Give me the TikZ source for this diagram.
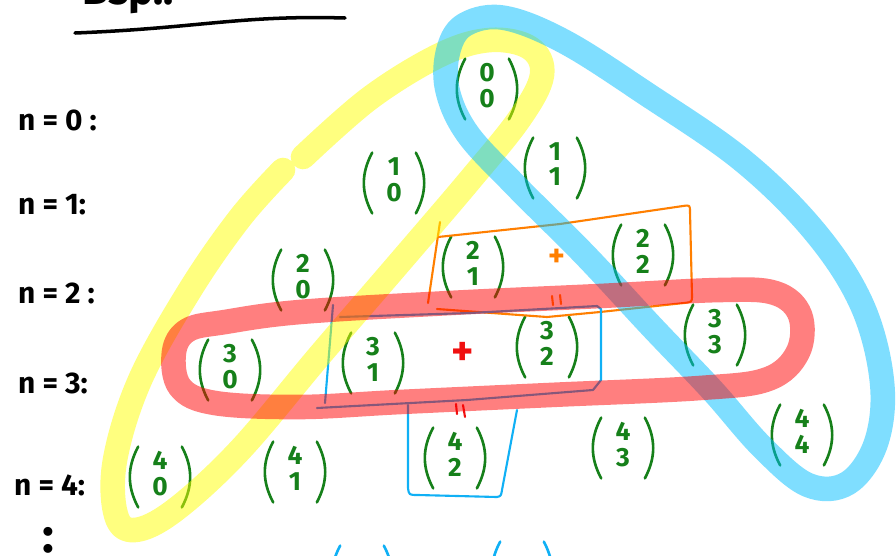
\documentclass[tikz,border=0pt]{standalone}
\usepackage{fontspec}
\setmainfont{Fira Sans}
\usetikzlibrary{calc}
\definecolor{inkgreen}{HTML}{16801A}
\definecolor{inkorange}{HTML}{FF7F00}
\definecolor{inkcyan}{HTML}{10B0F5}
\definecolor{inkred}{HTML}{F01010}
\definecolor{hlyellow}{HTML}{FFFF00}
\definecolor{hlblue}{HTML}{00BFFF}
\definecolor{hlred}{HTML}{FF0000}
\tikzset{
  ink/.style={line width=1.5pt, line cap=round, line join=round},
  thinink/.style={line width=1.2pt, line cap=round, line join=round},
  hl/.style={line width=14pt, line cap=round, line join=round, draw opacity=0.5},
  binbox/.style={inner sep=0pt, minimum width=1.1cm, minimum height=1.2cm,
    font=\fontsize{15}{14}\selectfont\bfseries},
  rowlabel/.style={anchor=west, font=\fontsize{17}{20}\selectfont\bfseries},
}
\newcommand\binnode[5][inkgreen]{%
  \node[binbox,text=#1] (#2) at (#3) {\begin{tabular}{@{}c@{}}#4\\#5\end{tabular}};
  \draw[ink,#1] ($(#2.north west)+(6,0)$) to[bend right=28] ($(#2.south west)+(6,0)$);
  \draw[ink,#1] ($(#2.north east)+(-6,0)$) to[bend left=28] ($(#2.south east)+(-6,0)$);}
\begin{document}
\begin{tikzpicture}[x=0.02cm,y=-0.02cm]
\useasboundingbox (0,0) rectangle (896,555);
\clip (0,0) rectangle (896,555);
\fill[white] (0,0) rectangle (896,555);

% title (cut off at the top) and underline
\node[anchor=base west, font=\fontsize{24}{28}\selectfont\bfseries] (title) at (76,4) {Bsp.:};
\draw[line width=2pt, line cap=round] (75,33) .. controls (200,28) and (240,15) .. (345,18);

% row labels
\node[rowlabel] (r0) at (12,120) {n = 0 :};
\node[rowlabel] (r1) at (12,205) {n = 1:};
\node[rowlabel] (r2) at (12,293) {n = 2 :};
\node[rowlabel] (r3) at (12,383) {n = 3:};
\node[rowlabel] (r4) at (8,485) {n = 4:};
\node[font=\fontsize{28}{28}\selectfont\bfseries, anchor=base] (vd) at (48,552) {:};

% binomial coefficients
\binnode{b00}{487,89}{0}{0}
\binnode{b10}{394,183}{1}{0}
\binnode{b11}{555,168}{1}{1}
\binnode{b20}{303,280}{2}{0}
\binnode{b21}{473,267}{2}{1}
\binnode{b22}{643,255}{2}{2}
\binnode{b30}{230,370}{3}{0}
\binnode{b31}{373,363}{3}{1}
\binnode{b32}{547,347}{3}{2}
\binnode{b33}{715,335}{3}{3}
\binnode{b40}{160,477}{4}{0}
\binnode{b41}{295,472}{4}{1}
\binnode{b42}{455,458}{4}{2}
\binnode{b43}{623,448}{4}{3}
\binnode{b44}{802,435}{4}{4}
% cut-off blue coefficients at the bottom
\binnode[inkcyan]{c1}{362,576}{\phantom{0}\,\phantom{0}}{}
\binnode[inkcyan]{c2}{522,572}{1}{}

% plus signs and equal marks
\node[text=inkorange, font=\fontsize{18}{18}\selectfont\bfseries] (p2) at (557,258) {+};
\node[text=inkred, font=\fontsize{24}{24}\selectfont\bfseries] (p3) at (463,354) {+};
\draw[thinink,inkorange] (552,296) -- (553,305) (560,295) -- (561,304);
\draw[thinink,inkred] (456,404) -- (457,414) (463,405) -- (465,417);

% orange box around row 2 sum
\draw[thinink,inkorange] (440,222) -- (428,303);
\draw[thinink,inkorange] (438,237) -- (560,224) -- (683,206) .. controls (690,205) .. (690,212)
  -- (692,296) .. controls (692,302) .. (684,303) -- (600,312) -- (547,317) -- (437,309);

% cyan box around row 3 sum
\draw[thinink,inkcyan] (333,305) -- (325,403);
\draw[thinink,inkcyan] (340,317) -- (470,313) -- (597,306) -- (601,309) -- (601,380)
  -- (593,390) -- (467,400) -- (317,408);
% cyan box around (4 2)
\draw[thinink,inkcyan] (408,405) -- (408,488) .. controls (409,495) .. (418,495)
  -- (497,497) .. controls (501,496) .. (502,490) -- (517,410);

% highlighter strokes
\draw[hl,hlyellow] plot[smooth, tension=0.6] coordinates {
  (283,170) (240,218) (190,290) (140,380) (115,460) (116,515) (135,530) (175,510)
  (240,450) (320,355) (400,262) (470,180) (520,118) (542,75) (530,48) (490,40)
  (440,55) (370,98) (303,157)};
\draw[hl,hlblue] plot[smooth cycle, tension=0.6] coordinates {
  (466,24) (449,48) (447,88) (467,133) (515,185) (585,255) (652,327) (712,390)
  (762,447) (808,485) (848,483) (876,443) (882,382) (862,305) (815,232) (742,160)
  (645,93) (565,42) (505,18)};
\draw[hl,hlred] plot[smooth cycle, tension=0.6] coordinates {
  (225,322) (300,312) (450,303) (600,296) (720,290) (775,293) (800,315) (798,352)
  (768,379) (700,388) (550,395) (400,402) (300,407) (215,403) (180,387) (174,352)
  (188,330)};
\end{tikzpicture}
\end{document}
